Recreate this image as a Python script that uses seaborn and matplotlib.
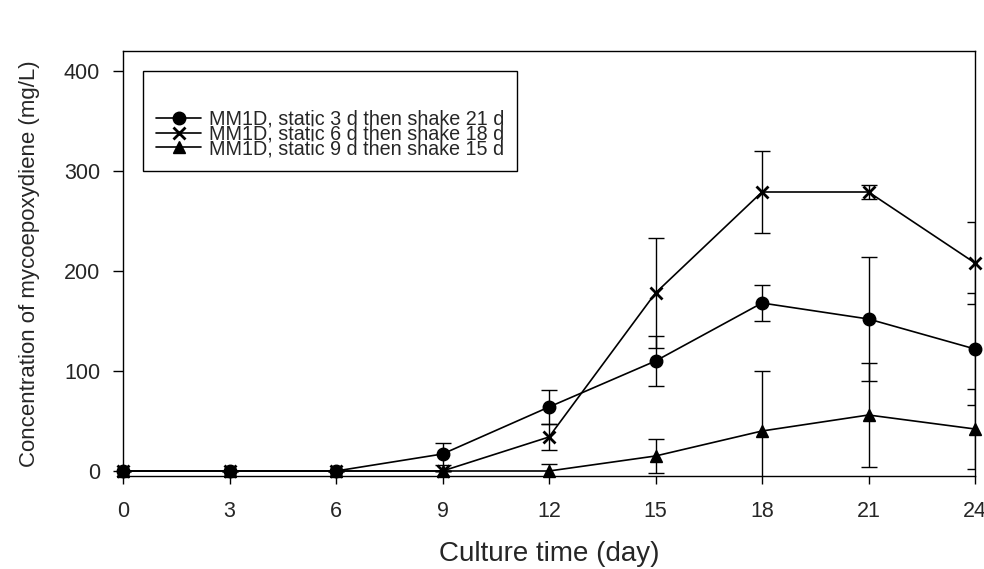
import matplotlib
matplotlib.use("Agg")
import matplotlib.pyplot as plt
import seaborn as sns
import pandas as pd
import numpy as np

days = [0, 3, 6, 9, 12, 15, 18, 21, 24]
labels = ["MM1D, static 3 d then shake 21 d",
          "MM1D, static 6 d then shake 18 d",
          "MM1D, static 9 d then shake 15 d"]
s3_mean = [0, 0, 0, 17, 64, 110, 168, 152, 122]
s3_err = [0, 0, 0, 11, 17, 25, 18, 62, 56]
s6_mean = [0, 0, 0, 0, 34, 178, 279, 279, 208]
s6_err = [0, 0, 0, 0, 13, 55, 41, 7, 41]
s9_mean = [0, 0, 0, 0, 0, 15, 40, 56, 42]
s9_err = [0, 0, 0, 0, 7, 17, 60, 52, 40]
yticks = [0, 100, 200, 300, 400]

sns.set_style("white")
plt.rcParams['font.family'] = ['Liberation Sans', 'DejaVu Sans']

fig = plt.figure(figsize=(9.84, 5.69), dpi=100)
ax = fig.add_axes([123/984, 1-476/569, (975-123)/984, (476-51)/569])

series = [(s3_mean, s3_err, 'o', 9, labels[0]),
          (s6_mean, s6_err, 'x', 8.5, labels[1]),
          (s9_mean, s9_err, '^', 9, labels[2])]
for mean, err, mk, ms, lab in series:
    df = pd.DataFrame({'day': days, 'val': mean})
    sns.lineplot(data=df, x='day', y='val', ax=ax, color='black', lw=1.2,
                 marker=mk, markersize=ms, markeredgecolor='black',
                 markeredgewidth=2 if mk == 'x' else 1, label=lab,
                 clip_on=False, zorder=3)
    ax.errorbar(days, mean, yerr=err, fmt='none', ecolor='black', elinewidth=1,
                capsize=5.5, capthick=1, zorder=2)

ax.set_xlim(0, 24)
ax.set_ylim(-5, 420)
ax.set_xticks(days)
ax.set_yticks(yticks)
ax.tick_params(axis='y', direction='out', length=7, width=1, color='black',
               labelsize=15.5, pad=9.4, left=True)
ax.tick_params(axis='x', direction='out', length=6, width=1, color='black',
               labelsize=15.5, pad=12, bottom=True)
for sp in ax.spines.values():
    sp.set_color('black')
    sp.set_linewidth(1)
ax.set_xlabel("Culture time (day)", fontsize=20)
ax.set_ylabel("Concentration of mycoepoxydiene (mg/L)", fontsize=16)
ax.xaxis.set_label_coords(0.5, -(541-476)/425)
ax.yaxis.set_label_coords((40-123)/852, 0.5)

leg = ax.legend(loc='upper left', bbox_to_anchor=(20/852, 1-20/425), fontsize=14.2,
                frameon=True, fancybox=False, edgecolor='black', framealpha=1,
                handlelength=2.3, handletextpad=0.4, borderpad=0.65,
                labelspacing=-0.21, borderaxespad=0, title=" ",
                title_fontsize=22)
leg.get_frame().set_linewidth(1)

fig.savefig("out.png", dpi=100, facecolor='white')
